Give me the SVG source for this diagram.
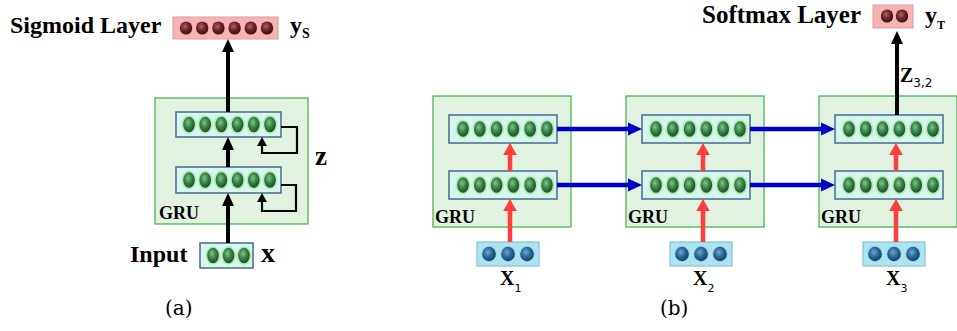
<svg xmlns="http://www.w3.org/2000/svg" xmlns:xlink="http://www.w3.org/1999/xlink" width="957" height="331" viewBox="0 0 957 331">
<style>
.t{font-family:"Liberation Serif","Times New Roman",serif;font-weight:bold;fill:#000}
.cap{font-family:"DejaVu Serif","Liberation Serif",serif;fill:#000}
.sub{font-family:"DejaVu Sans","Liberation Sans",sans-serif;fill:#000}
.gru{fill:#e2f2e0;stroke:#3cb043;stroke-width:1.2}
.lay{fill:#d6f6ee;stroke:#466c8e;stroke-width:1.5}
.inb{fill:#ace4f2;stroke:#86c4d8;stroke-width:1.2}
.pk{fill:#f6b4b4;stroke:#d8a0a0;stroke-width:1}
.bk{stroke:#000;stroke-width:4;fill:none}
.bks{stroke:#000;stroke-width:2.2;fill:none}
.rd{stroke:#ff3d3d;stroke-width:4.5;fill:none}
.bl{stroke:#0000c8;stroke-width:4.5;fill:none}
</style>
<defs>
<radialGradient id="gG" cx="0.42" cy="0.38" r="0.62"><stop offset="0" stop-color="#82c48c"/><stop offset="0.55" stop-color="#367f44"/><stop offset="1" stop-color="#1c5126"/></radialGradient>
<radialGradient id="gB" cx="0.42" cy="0.38" r="0.62"><stop offset="0" stop-color="#6fa8d0"/><stop offset="0.55" stop-color="#2a6898"/><stop offset="1" stop-color="#173e60"/></radialGradient>
<radialGradient id="gR" cx="0.42" cy="0.38" r="0.62"><stop offset="0" stop-color="#b06060"/><stop offset="0.55" stop-color="#6a2424"/><stop offset="1" stop-color="#3e1010"/></radialGradient>
<g id="gb"><ellipse rx="7.5" ry="9.5" fill="#a6eaa6" opacity="0.75"/><ellipse rx="5.8" ry="7.8" fill="url(#gG)"/></g>
<g id="bb"><ellipse rx="7.8" ry="8" fill="#8fd0e6" opacity="0.7"/><ellipse rx="6.8" ry="7.2" fill="url(#gB)"/></g>
<g id="rb"><ellipse rx="6.2" ry="6.6" fill="url(#gR)"/></g>
<g id="l6a"><use href="#gb" x="13"/><use href="#gb" x="29.2"/><use href="#gb" x="45.4"/><use href="#gb" x="61.6"/><use href="#gb" x="77.8"/><use href="#gb" x="94"/></g>
<g id="l6b"><use href="#gb" x="14"/><use href="#gb" x="30.8"/><use href="#gb" x="47.6"/><use href="#gb" x="64.4"/><use href="#gb" x="81.2"/><use href="#gb" x="98"/></g>
<marker id="mk" markerUnits="userSpaceOnUse" markerWidth="14" markerHeight="14" viewBox="0 -7 14 14" refX="0" refY="0" orient="auto"><path d="M0,-6 L13,0 L0,6 z" fill="#000"/></marker>
<marker id="mks" markerUnits="userSpaceOnUse" markerWidth="12" markerHeight="12" viewBox="0 -6 12 12" refX="0" refY="0" orient="auto"><path d="M0,-5 L9,0 L0,5 z" fill="#000"/></marker>
<marker id="mr" markerUnits="userSpaceOnUse" markerWidth="14" markerHeight="16" viewBox="0 -8 14 16" refX="0" refY="0" orient="auto"><path d="M0,-6.8 L12,0 L0,6.8 z" fill="#ff3d3d"/></marker>
<marker id="mb" markerUnits="userSpaceOnUse" markerWidth="15" markerHeight="14" viewBox="0 -7 15 14" refX="0" refY="0" orient="auto"><path d="M0,-6.5 L14,0 L0,6.5 z" fill="#0000c8"/></marker>
</defs>

<!-- Panel (a) -->
<g id="sigmoid">
<text class="t" x="10" y="33" font-size="24">Sigmoid Layer</text>
<rect class="pk" x="173" y="17" width="105" height="22"/>
<use href="#rb" x="186" y="28"/><use href="#rb" x="202.2" y="28"/><use href="#rb" x="218.4" y="28"/><use href="#rb" x="234.6" y="28"/><use href="#rb" x="250.8" y="28"/><use href="#rb" x="267" y="28"/>
<text class="t" x="290" y="33" font-size="24">y<tspan font-size="14" dy="5">S</tspan></text>
</g>
<g id="gru-a">
<rect class="gru" x="155" y="98" width="153" height="126"/>
<text class="t" x="159" y="219" font-size="18">GRU</text>
</g>
<g id="gru-a-upper">
<rect class="lay" x="176" y="112" width="105" height="25"/>
<use href="#l6a" x="176" y="124.5"/>
</g>
<g id="gru-a-lower">
<rect class="lay" x="176" y="167" width="105" height="26"/>
<use href="#l6a" x="176" y="180"/>
</g>
<g id="z-label"><text class="t" x="315" y="165" font-size="27">z</text></g>
<g id="input-a">
<text class="t" x="130" y="262" font-size="24">Input</text>
<rect class="lay" x="200" y="243" width="53" height="25"/>
<use href="#gb" x="213" y="255.5"/><use href="#gb" x="228.5" y="255.5"/><use href="#gb" x="244" y="255.5"/>
<text class="t" x="261" y="262" font-size="28">x</text>
</g>
<text class="cap" x="165" y="315" font-size="20">(a)</text>

<!-- Panel (b) -->
<g id="gru-b1">
<rect class="gru" x="433" y="96" width="138" height="131"/>
<text class="t" x="435" y="223" font-size="18">GRU</text>
<rect class="lay" x="449" y="115" width="108" height="28"/><use href="#l6b" x="449" y="129"/>
<rect class="lay" x="449" y="171" width="108" height="28"/><use href="#l6b" x="449" y="185"/>
</g>
<g id="gru-b2">
<rect class="gru" x="626" y="96" width="138" height="131"/>
<text class="t" x="628" y="223" font-size="18">GRU</text>
<rect class="lay" x="642" y="115" width="108" height="28"/><use href="#l6b" x="642" y="129"/>
<rect class="lay" x="642" y="171" width="108" height="28"/><use href="#l6b" x="642" y="185"/>
</g>
<g id="gru-b3">
<rect class="gru" x="819" y="96" width="138" height="131"/>
<text class="t" x="821" y="223" font-size="18">GRU</text>
<rect class="lay" x="835" y="115" width="108" height="28"/><use href="#l6b" x="835" y="129"/>
<rect class="lay" x="835" y="171" width="108" height="28"/><use href="#l6b" x="835" y="185"/>
</g>
<g id="input-x1">
<rect class="inb" x="477" y="242" width="62" height="24"/>
<use href="#bb" x="489" y="254"/><use href="#bb" x="508" y="254"/><use href="#bb" x="527" y="254"/>
<text class="t" x="500" y="285" font-size="20">X<tspan class="sub" font-size="11" dy="7" font-weight="normal">1</tspan></text>
</g>
<g id="input-x2">
<rect class="inb" x="670" y="242" width="62" height="24"/>
<use href="#bb" x="682" y="254"/><use href="#bb" x="701" y="254"/><use href="#bb" x="720" y="254"/>
<text class="t" x="693" y="285" font-size="20">X<tspan class="sub" font-size="11" dy="7" font-weight="normal">2</tspan></text>
</g>
<g id="input-x3">
<rect class="inb" x="863" y="242" width="62" height="24"/>
<use href="#bb" x="875" y="254"/><use href="#bb" x="894" y="254"/><use href="#bb" x="913" y="254"/>
<text class="t" x="886" y="285" font-size="20">X<tspan class="sub" font-size="11" dy="7" font-weight="normal">3</tspan></text>
</g>
<g id="softmax">
<text class="t" x="702" y="23" font-size="25">Softmax Layer</text>
<rect class="pk" x="873" y="5" width="40" height="23"/>
<use href="#rb" x="887" y="16"/><use href="#rb" x="902" y="16"/>
<text class="t" x="925" y="23" font-size="24">y<tspan font-size="12" dy="6">T</tspan></text>
</g>
<g id="z32"><text class="t" x="900" y="82" font-size="20">Z<tspan class="sub" font-size="12" font-weight="normal" dy="5">3,2</tspan></text></g>
<text class="cap" x="660" y="315" font-size="20">(b)</text>

<!-- Connectors -->
<g id="connectors">
<line class="bk" x1="228" y1="243" x2="228" y2="206" marker-end="url(#mk)"/>
<line class="bk" x1="228" y1="167" x2="228" y2="150" marker-end="url(#mk)"/>
<line class="bk" x1="228" y1="112" x2="228" y2="52" marker-end="url(#mk)"/>
<polyline class="bks" points="281,127 297,127 297,153 262,153 262,146" marker-end="url(#mks)"/>
<polyline class="bks" points="281,185 296,185 296,211 262,211 262,202" marker-end="url(#mks)"/>
<line class="rd" x1="510" y1="242" x2="510" y2="211" marker-end="url(#mr)"/>
<line class="rd" x1="510" y1="171" x2="510" y2="155" marker-end="url(#mr)"/>
<line class="rd" x1="703" y1="242" x2="703" y2="211" marker-end="url(#mr)"/>
<line class="rd" x1="703" y1="171" x2="703" y2="155" marker-end="url(#mr)"/>
<line class="rd" x1="896" y1="242" x2="896" y2="211" marker-end="url(#mr)"/>
<line class="rd" x1="896" y1="171" x2="896" y2="155" marker-end="url(#mr)"/>
<line class="bl" x1="557" y1="129" x2="628" y2="129" marker-end="url(#mb)"/>
<line class="bl" x1="557" y1="185" x2="628" y2="185" marker-end="url(#mb)"/>
<line class="bl" x1="750" y1="129" x2="821" y2="129" marker-end="url(#mb)"/>
<line class="bl" x1="750" y1="185" x2="821" y2="185" marker-end="url(#mb)"/>
<line class="bk" x1="897" y1="115" x2="897" y2="44" marker-end="url(#mk)"/>
</g>
</svg>
